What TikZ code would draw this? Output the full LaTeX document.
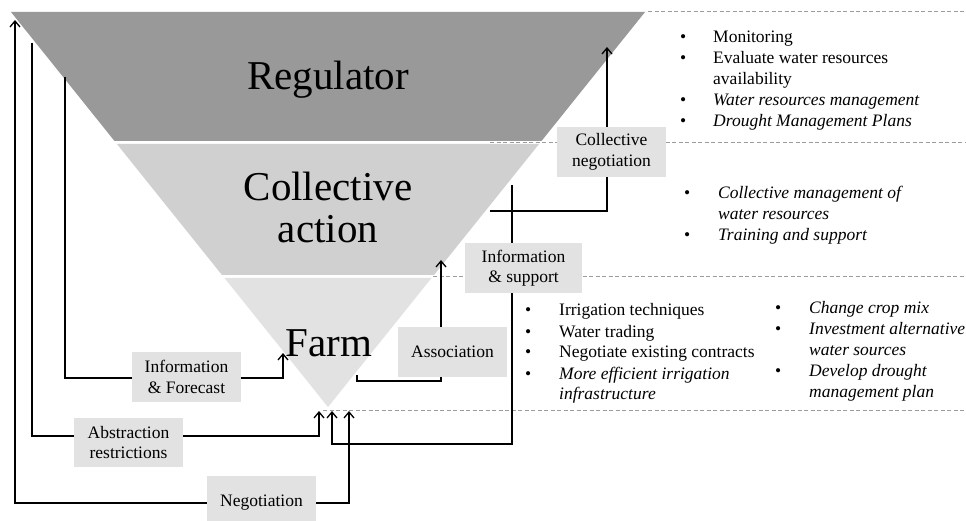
\documentclass[tikz,border=0pt]{standalone}
\usepackage{fontspec}
\setmainfont{Liberation Serif}
\usetikzlibrary{arrows.meta}
\definecolor{regc}{HTML}{999999}
\definecolor{colc}{HTML}{D0D0D0}
\definecolor{farmc}{HTML}{E2E2E2}
\definecolor{boxc}{HTML}{E2E2E2}
\definecolor{dashc}{HTML}{9C9C9C}
\tikzset{
  >={Straight Barb[length=6pt,width=10pt]},
  conn/.style={line width=1.3pt, black},
  lbl/.style={fill=boxc, inner sep=0pt, minimum width=109pt, minimum height=50pt,
    align=center, font=\fontsize{17.5}{20.5}\selectfont},
  big/.style={font=\fontsize{41}{41}\selectfont, inner sep=0pt, anchor=base},
  lst/.style={font=\fontsize{17.5}{21}\selectfont, inner sep=0pt, anchor=base west},
  guide/.style={dashc, line width=1pt, dash pattern=on 4pt off 2.5pt},
}
\begin{document}
\begin{tikzpicture}[x=1pt,y=-1pt]
\clip (0,0) rectangle (966,521);
\fill[white] (0,0) rectangle (966,521);
% inverted pyramid
\fill[regc] (11,12) -- (645,12) -- (541.5,141) -- (114.5,141) -- cycle;
\fill[colc] (116.9,144) -- (539.1,144) -- (434,275) -- (222,275) -- cycle;
\fill[farmc] (224.5,278) -- (431.5,278) -- (328,407) -- cycle;
% level texts
\node[big] (regtxt) at (328,90) {Regulator};
\node[big] (coltxt) at (328,201) {Collective};
\node[big] (acttxt) at (328,243) {action};
\node[big] (farmtxt) at (329,356) {Farm};
% dashed guides
\draw[guide] (648,12) -- (966,12);
\draw[guide] (490,143) -- (966,143);
\draw[guide] (433,277) -- (966,277);
\draw[guide] (323,410) -- (966,410);
% connector end points
\coordinate (negA) at (15,20);
\coordinate (negB) at (349,411);
\coordinate (absA) at (32,43);
\coordinate (absB) at (319,411);
\coordinate (ifA) at (65,77);
\coordinate (ifB) at (283,353);
\coordinate (isA) at (512,185);
\coordinate (isB) at (332,411);
\coordinate (cnA) at (490,211);
\coordinate (cnB) at (607,47);
\coordinate (asA) at (357,375);
\coordinate (asB) at (441,260);
% connectors
\draw[conn,<->] (negA) -- (15,503) -| (negB);
\draw[conn,->] (absA) -- (32,436) -| (absB);
\draw[conn,->] (ifA) -- (65,378) -| (ifB);
\draw[conn,->] (isA) -- (512,444) -| (isB);
\draw[conn,->] (cnA) -| (cnB);
\draw[conn,->] (asA) -- (357,381) -| (asB);
% label boxes
\node[lbl] (colneg) at (611.5,152) {Collective\\negotiation};
\node[lbl, minimum width=117pt] (infsup) at (523.5,268) {Information\\\& support};
\node[lbl] (assoc) at (452.5,352) {Association};
\node[lbl] (inffor) at (186.5,377) {Information\\\& Forecast};
\node[lbl, minimum height=49pt] (abstr) at (128.5,442.5) {Abstraction\\restrictions};
\node[lbl, minimum height=54pt] (negot) at (261.5,503) {Negotiation};
% lists
\node[lst] (reglist) at (680,43) {\begin{tabular}[t]{@{}p{33pt}@{}l@{}}
\textbullet & Monitoring\\
\textbullet & Evaluate water resources\\
 & availability\\
\textbullet & \textit{Water resources management}\\
\textbullet & \textit{Drought Management Plans}
\end{tabular}};
\node[lst] (collist) at (684,199) {\begin{tabular}[t]{@{}p{34pt}@{}l@{}}
\textbullet & \textit{Collective management of}\\
 & \textit{water resources}\\
\textbullet & \textit{Training and support}
\end{tabular}};
\node[lst] (farmlistA) at (525,316) {\begin{tabular}[t]{@{}p{34pt}@{}l@{}}
\textbullet & Irrigation techniques\\
\textbullet & Water trading\\
\textbullet & Negotiate existing contracts\\
\textbullet & \textit{More efficient irrigation}\\
 & \textit{infrastructure}
\end{tabular}};
\node[lst] (farmlistB) at (775,313) {\begin{tabular}[t]{@{}p{34pt}@{}l@{}}
\textbullet & \textit{Change crop mix}\\
\textbullet & \textit{Investment alternative}\\
 & \textit{water sources}\\
\textbullet & \textit{Develop drought}\\
 & \textit{management plan}
\end{tabular}};
\end{tikzpicture}
\end{document}
